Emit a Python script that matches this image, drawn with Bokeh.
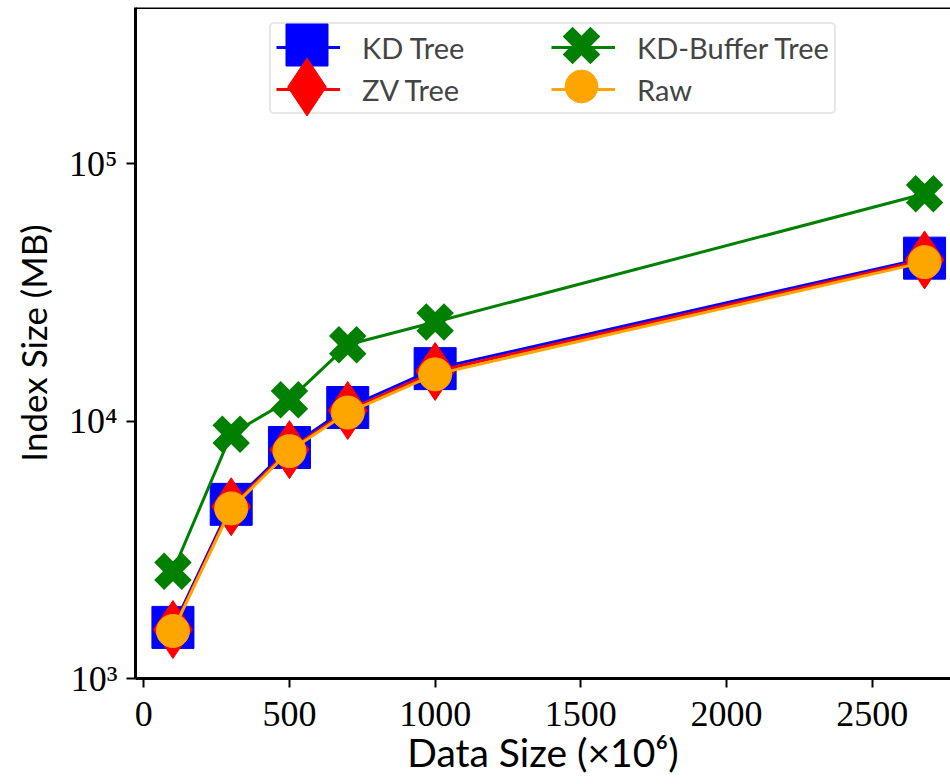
from bokeh.plotting import figure
from bokeh.models import Range1d, FixedTicker, Legend, LegendItem, Span
from bokeh.embed import file_html
from bokeh.resources import INLINE

# Data size (x 10^6 points)
data_size = [100, 300, 500, 700, 1000, 2680]

# Index size (MB) per structure
kd_tree = [1580, 4750, 7900, 11300, 16000, 43000]
zv_tree = [1550, 4650, 7750, 11000, 15600, 42300]
kd_buffer_tree = [2610, 8900, 12100, 19800, 24300, 76500]
raw = [1530, 4580, 7650, 10800, 15200, 41500]

y_ticks = [1000, 10000, 100000]
y_tick_labels = {1000: "10³", 10000: "10⁴", 100000: "10⁵"}
x_ticks = [0, 500, 1000, 1500, 2000, 2500]

SANS = "Lato"
SERIF = "Liberation Serif"

# frame placement on the canvas
LEFT, TOP, BOTTOM = 135, 7, 106
W, H = 950, 784
FRAME_W, FRAME_H = W - LEFT, H - TOP - BOTTOM

p = figure(width=W, height=H, y_axis_type="log",
           x_range=Range1d(-28.5, 2769), y_range=Range1d(1000, 4.05e5),
           output_backend="svg", toolbar_location=None,
           min_border_left=LEFT, min_border_right=0, min_border_top=TOP,
           min_border_bottom=BOTTOM)
p.frame_width = FRAME_W
p.frame_height = FRAME_H
p.outline_line_color = None
p.grid.visible = False
p.background_fill_color = "white"

for ax in (p.xaxis[0], p.yaxis[0]):
    ax.axis_line_width = 3
    ax.axis_line_color = "black"
    ax.major_tick_line_width = 2
    ax.major_tick_out = 9
    ax.major_tick_in = 0
    ax.minor_tick_line_color = None
    ax.major_label_text_font = SERIF
    ax.major_label_text_font_size = "36px"
    ax.major_label_text_color = "black"
    ax.axis_label_text_font = SANS
    ax.axis_label_text_font_style = "normal"
    ax.axis_label_text_color = "black"

p.xaxis.ticker = FixedTicker(ticks=x_ticks)
p.yaxis.ticker = FixedTicker(ticks=y_ticks)
p.yaxis.major_label_overrides = y_tick_labels
p.xaxis.axis_label = "Data Size (×10⁶)"
p.yaxis.axis_label = "Index Size (MB)"
p.xaxis.axis_label_text_font_size = "39px"
p.yaxis.axis_label_text_font_size = "35px"
p.xaxis.major_label_standoff = 14
p.yaxis.major_label_standoff = 9
p.xaxis.axis_label_standoff = 0
p.yaxis.axis_label_standoff = 12

# top spine (the right one falls outside the canvas)
p.add_layout(Span(location=4.05e5, dimension="width", line_color="black",
                  line_width=3))

series = [
    ("KD Tree", kd_tree, "blue", "square", 42),
    ("ZV Tree", zv_tree, "red", "diamond", 58),
    ("KD-Buffer Tree", kd_buffer_tree, "green", "x", 39),
    ("Raw", raw, "orange", "circle", 33),
]

lines, marks = [], []
for name, vals, color, marker, size in series:
    ln = p.line(data_size, vals, line_color=color, line_width=3)
    if marker == "x":
        sc = p.scatter(data_size, vals, marker="x", size=size, line_color=color,
                       line_width=14)
    else:
        sc = p.scatter(data_size, vals, marker=marker, size=size, fill_color=color,
                       line_color=color, line_width=1)
    lines.append(ln)
    marks.append(sc)

# legend box: labels and line samples
legend = Legend(items=[LegendItem(label=s[0], renderers=[ln]) for s, ln in zip(series, lines)],
                location=(134, FRAME_H - 15 - 92), ncols=2,
                glyph_width=64, glyph_height=36, label_standoff=22, spacing=6,
                padding=5, label_text_font=SANS, label_text_font_size="29px",
                label_width=183, border_line_color="#d0d0d0", border_line_width=2,
                border_radius=5, background_fill_alpha=0.85)
p.add_layout(legend, "center")

# marker samples at full marker size on top of the legend lines
# (legend markers are drawn at 0.4 x the glyph box)
centers = [(306, 44.5), (306, 86), (581, 45), (581, 86)]
for (name, vals, color, marker, size), sc, (cx, cy) in zip(series, marks, centers):
    g = size / 0.4
    mk = Legend(items=[LegendItem(label=" ", renderers=[sc])],
                location=(cx - LEFT - g / 2, (H - BOTTOM - cy) - g / 2),
                glyph_width=int(round(g)), glyph_height=int(round(g)), padding=0,
                spacing=0, label_standoff=0, label_width=0, label_height=0,
                label_text_font_size="1px", border_line_color=None,
                background_fill_color=None, background_fill_alpha=0)
    p.add_layout(mk, "center")

open("out.html", "w").write(file_html(p, INLINE))
